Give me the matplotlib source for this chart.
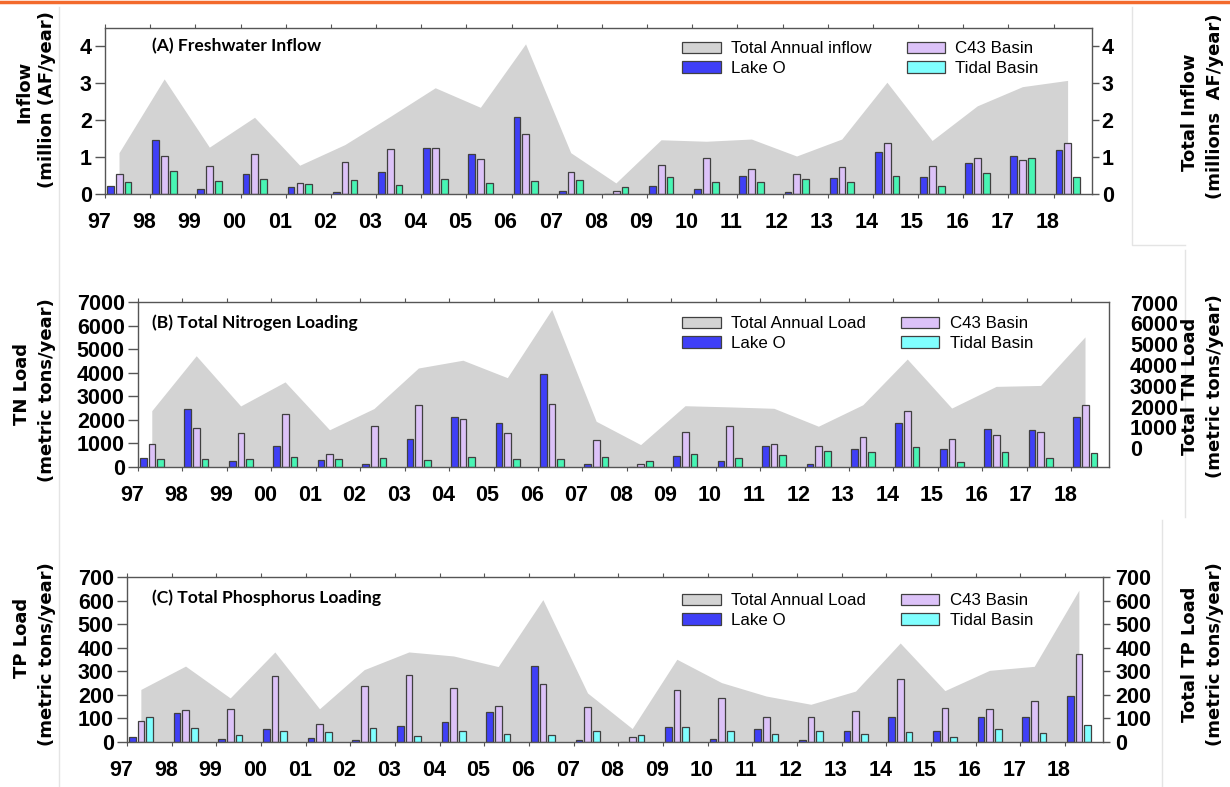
import numpy as np
import matplotlib
matplotlib.use('Agg')
import matplotlib.pyplot as plt
import matplotlib.transforms as mtransforms
from matplotlib.patches import Patch
from matplotlib.lines import Line2D


years = np.arange(1997, 2019)
year_labels = ['97', '98', '99', '00', '01', '02', '03', '04', '05', '06', '07',
               '08', '09', '10', '11', '12', '13', '14', '15', '16', '17', '18']

# (A) freshwater inflow, million AF/year
inflow_total = [1.12, 3.12, 1.27, 2.08, 0.78, 1.34, 2.10, 2.88, 2.35, 4.07, 1.12,
                0.30, 1.47, 1.43, 1.49, 1.03, 1.49, 3.03, 1.45, 2.39, 2.91, 3.08]
inflow_lake = [0.22, 1.46, 0.13, 0.55, 0.18, 0.06, 0.60, 1.24, 1.09, 2.08, 0.08,
               0.00, 0.23, 0.13, 0.48, 0.06, 0.43, 1.14, 0.47, 0.85, 1.02, 1.19]
inflow_c43 = [0.53, 1.04, 0.75, 1.09, 0.30, 0.87, 1.21, 1.24, 0.94, 1.64, 0.60,
              0.08, 0.78, 0.98, 0.67, 0.53, 0.72, 1.39, 0.75, 0.97, 0.92, 1.39]
inflow_tidal = [0.32, 0.61, 0.36, 0.42, 0.28, 0.38, 0.24, 0.40, 0.30, 0.35, 0.38,
                0.20, 0.45, 0.33, 0.33, 0.40, 0.33, 0.50, 0.21, 0.58, 0.97, 0.47]

# (B) total nitrogen, metric tons/year
tn_total = [2390, 4720, 2590, 3610, 1580, 2480, 4200, 4530, 3790, 6680, 1940,
            950, 2600, 2550, 2490, 1730, 2640, 4580, 2500, 3420, 3460, 5520]
tn_lake = [380, 2460, 240, 890, 280, 110, 1170, 2110, 1880, 3930, 110,
           0, 470, 250, 890, 110, 750, 1880, 750, 1600, 1560, 2110]
tn_c43 = [980, 1640, 1430, 2260, 550, 1730, 2620, 2050, 1440, 2690, 1160,
          110, 1490, 1730, 980, 910, 1290, 2360, 1170, 1360, 1490, 2640]
tn_tidal = [330, 330, 330, 440, 330, 400, 280, 440, 330, 350, 420,
            250, 550, 400, 510, 680, 640, 860, 200, 640, 400, 580]

# (C) total phosphorus, metric tons/year
tp_total = [223, 322, 187, 382, 141, 307, 382, 365, 320, 604, 208,
            57, 351, 252, 195, 160, 216, 420, 218, 304, 321, 644]
tp_lake = [23, 124, 11, 54, 18, 7, 66, 86, 129, 322, 7,
           0, 62, 14, 54, 8, 47, 107, 47, 105, 105, 195]
tp_c43 = [89, 134, 139, 280, 78, 236, 284, 229, 151, 245, 147,
          23, 222, 187, 105, 105, 133, 269, 144, 140, 175, 373]
tp_tidal = [107, 58, 31, 47, 42, 61, 27, 47, 34, 31, 47,
            31, 65, 47, 35, 47, 35, 42, 23, 54, 40, 74]

W, H = 1230, 787
fig = plt.figure(figsize=(W / 100, H / 100), dpi=100)

gray = '#d3d3d3'
blue = '#3f3ff7'
lilac = '#dcc2f8'
aqua = '#48f5b4'
cyan = '#80ffff'
edge = '#404040'
spine_col = '#555555'
tick_font = dict(family=['Liberation Sans Narrow', 'Liberation Sans', 'DejaVu Sans'],
                 weight='bold', size=15.5)
lab_font = dict(family=['DejaVu Sans'], weight='bold', size=13)


def px_box(l, r, t, b):
    return [l / W, 1 - b / H, (r - l) / W, (b - t) / H]


def draw_panel(box, total, lake, c43, tidal, ylim, yticks, title, total_name,
               tidal_col, title_y, leg_y, right_pad, right_len, twin_lim=None):
    ax = fig.add_axes(px_box(*box))
    ax.fill_between(years + 0.31, total, color=gray, lw=0, zorder=1)
    ax.bar(years + 0.12, lake, width=0.15, color=blue, edgecolor=edge, lw=0.9, zorder=2)
    ax.bar(years + 0.315, c43, width=0.15, color=lilac, edgecolor=edge, lw=0.9, zorder=2)
    ax.bar(years + 0.51, tidal, width=0.15, color=tidal_col, edgecolor=edge, lw=0.9, zorder=2)
    ax.set_xlim(1997, 2018.85)
    ax.set_ylim(*ylim)
    ax.set_yticks(yticks)
    ax.set_xticks(years)
    ax.set_xticklabels(year_labels, **tick_font)
    ax.set_yticklabels([str(v) for v in yticks], **tick_font)
    ax.tick_params(axis='y', direction='out', length=7.5, width=1, color=spine_col, pad=2)
    ax.tick_params(axis='x', direction='out', length=3, width=0.8, color=spine_col, pad=10,
                   top=True)
    for sp in ax.spines.values():
        sp.set_color(spine_col)
        sp.set_linewidth(1)
    shift = mtransforms.ScaledTranslation(-0.06, 0, fig.dpi_scale_trans)
    for lbl in ax.get_xticklabels():
        lbl.set_transform(lbl.get_transform() + shift)

    ax2 = ax.twinx()
    if twin_lim is None:
        ax2.set_ylim(*ylim)
    else:
        ax2.set_ylim(*twin_lim)
    ax2.set_yticks(yticks)
    ax2.set_yticklabels([str(v) for v in yticks], **tick_font)
    ax2.tick_params(axis='y', direction='out', length=right_len, width=1, color=spine_col,
                    pad=right_pad)
    for sp in ax2.spines.values():
        sp.set_visible(False)

    fig.text(152 / W, 1 - title_y / H, title, ha='left', va='center',
             fontfamily=['Lato', 'DejaVu Sans'], fontweight='bold', fontsize=12.6, zorder=6)

    handles = [Patch(facecolor=gray, edgecolor=edge, lw=0.9),
               Patch(facecolor=blue, edgecolor=edge, lw=0.9),
               Patch(facecolor=lilac, edgecolor=edge, lw=0.9),
               Patch(facecolor=cyan, edgecolor=edge, lw=0.9)]
    names = [total_name, 'Lake O', 'C43 Basin', 'Tidal Basin']
    leg = ax.legend(handles, names, ncol=2, loc='upper left',
                    bbox_to_anchor=(674 / W, 1 - leg_y / H), bbox_transform=fig.transFigure,
                    frameon=False, borderpad=0, handlelength=2.25, handleheight=0.7,
                    handletextpad=0.6, columnspacing=2.1, labelspacing=0.25,
                    prop=dict(family=['Liberation Sans', 'DejaVu Sans'], size=12.2))
    leg.set_zorder(5)
    return ax


draw_panel((105, 1092, 28, 194), inflow_total, inflow_lake, inflow_c43, inflow_tidal,
           (0, 4.5), [0, 1, 2, 3, 4], '(A) Freshwater Inflow', 'Total Annual inflow',
           aqua, 46, 33, 2, 5)
draw_panel((138, 1109, 302, 467), tn_total, tn_lake, tn_c43, tn_tidal,
           (0, 7000), [0, 1000, 2000, 3000, 4000, 5000, 6000, 7000],
           '(B) Total Nitrogen Loading', 'Total Annual Load', aqua, 323, 308, 15, 0,
           twin_lim=(-907, 7030))
draw_panel((127, 1103, 577, 742), tp_total, tp_lake, tp_c43, tp_tidal,
           (0, 700), [0, 100, 200, 300, 400, 500, 600, 700],
           '(C) Total Phosphorus Loading', 'Total Annual Load', cyan, 598, 585, 4, 5)

# axis titles
def side_label(x, y, s):
    fig.text(x / W, 1 - y / H, s, rotation=90, ha='center', va='center', **lab_font)


side_label(24, 92, 'Inflow')
side_label(47, 100, '(million (AF/year)')
side_label(1190, 112, 'Total Inflow')
side_label(1215, 106, '(millions  AF/year)')

side_label(22, 384, 'TN Load')
side_label(47, 390, '(metric tons/year)')
side_label(1190, 386, 'Total TN Load')
side_label(1215, 386, '(metric tons/year)')

side_label(22, 638, 'TP Load')
side_label(47, 654, '(metric tons/year)')
side_label(1190, 654, 'Total TP Load')
side_label(1215, 654, '(metric tons/year)')

# frame remnants of the pasted panels
def fig_line(xs, ys, col='#e4e4e4', lw=1):
    fig.add_artist(Line2D([x / W for x in xs], [1 - y / H for y in ys], color=col, lw=lw))


fig_line([59, 59], [7, 787])
fig_line([1132, 1132, 1185], [7, 245, 245])
fig_line([1185, 1185], [250, 517])
fig_line([1162, 1162], [520, 787])
fig_line([0, W], [1.5, 1.5], col='#f36a2c', lw=2.5)

fig.savefig('out.png', dpi=100)
